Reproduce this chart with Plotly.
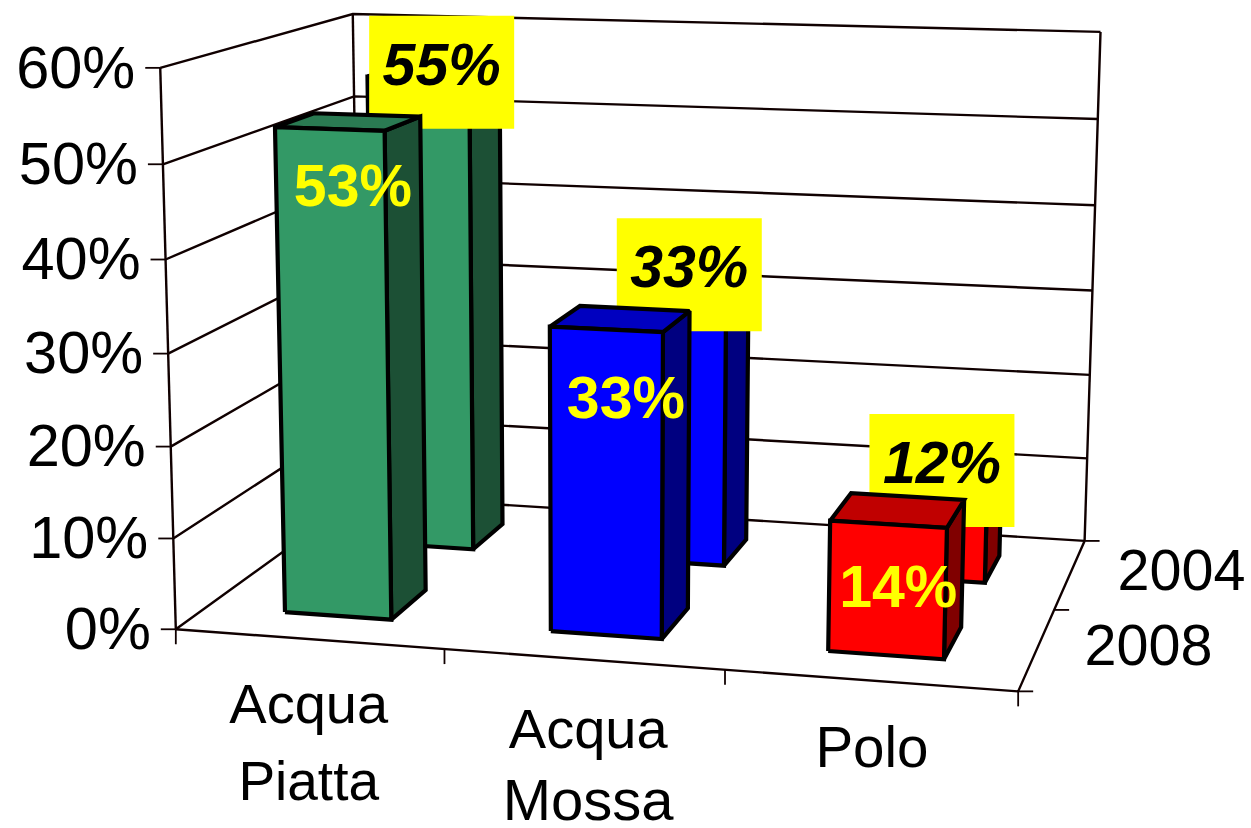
import numpy as np
import plotly.graph_objects as go

category_lines = [["Acqua", "Piatta"], ["Acqua", "Mossa"], ["Polo"]]
years = ["2008", "2004"]
values_2008 = [53, 33, 14]
values_2004 = [55, 33, 12]
z_ticks = [0, 10, 20, 30, 40, 50, 60]
face_colors = [("#339966", "#1c5035", "#2a7a52"), ("#0000ff", "#000080", "#0000c0"), ("#ff0000", "#800000", "#c00000")]

CAMERA = np.array([[259.2793371, 122.6544077, -0.3536272, 175.8070688],
                   [6.091377, -24.7949823, -9.3966901, 629.2724587],
                   [-0.0211244, 0.0844081, -0.0005877, 1.0]])

def project(x, y, z):
    q = CAMERA @ np.array([x, y, z, 1.0])
    return q[0] / q[2], q[1] / q[2]

FONT = "Liberation Sans, Arial, sans-serif"
fig = go.Figure()

def line(pts, width=2.4, color="#100000"):
    xs, ys = [], []
    for p in pts:
        xs.append(p[0]); ys.append(p[1])
    fig.add_trace(go.Scatter(x=xs, y=ys, mode="lines", line=dict(color=color, width=width), hoverinfo="skip", showlegend=False))

def text(x, y, s, size, color="black", pos="middle center", bold=False, italic=False):
    fig.add_trace(go.Scatter(x=[x], y=[y], mode="text", text=[s], textposition=pos,
        textfont=dict(family=FONT, size=size, color=color, weight="bold" if bold else "normal", style="italic" if italic else "normal"),
        hoverinfo="skip", showlegend=False, cliponaxis=False))

n_cat, n_row = len(category_lines), len(years)
zmax = z_ticks[-1]
# walls and floor
for z in z_ticks:
    line([project(0, 0, z), project(0, n_row, z), project(n_cat, n_row, z)])
    a = project(0, 0, z)
    line([a, (a[0] - 15, a[1])], width=1.8)
for x, y in [(0, 0), (0, n_row), (n_cat, n_row)]:
    line([project(x, y, 0), project(x, y, zmax)])
line([project(0, 0, 0), project(n_cat, 0, 0), project(n_cat, n_row, 0)])
for i in range(n_cat + 1):
    a = project(i, 0, 0)
    line([a, (a[0], a[1] + 15)], width=1.8)
for j in range(n_row + 1):
    a = project(n_cat, j, 0)
    line([a, (a[0] + 15, a[1])], width=1.8)

BAR_X0, BAR_X1, BAR_Y0, BAR_Y1 = 0.30, 0.705, 0.30, 0.70

def bar(i, j, v, cols):
    x0, x1, y0, y1 = i + BAR_X0, i + BAR_X1, j + BAR_Y0, j + BAR_Y1
    faces = [([(x1, y0, 0), (x1, y1, 0), (x1, y1, v), (x1, y0, v)], cols[1]),
             ([(x0, y0, v), (x1, y0, v), (x1, y1, v), (x0, y1, v)], cols[2]),
             ([(x0, y0, 0), (x1, y0, 0), (x1, y0, v), (x0, y0, v)], cols[0])]
    for f, c in faces:
        pts = [project(*p) for p in f]
        pts.append(pts[0])
        fig.add_trace(go.Scatter(x=[p[0] for p in pts], y=[p[1] for p in pts], mode="lines", fill="toself",
            fillcolor=c, line=dict(color="black", width=4.2), hoverinfo="skip", showlegend=False))

back_offsets = [(8, 0), (4, 4), (1, 7)]
front_offsets = [(5, 69), (6, 84), (1, 82)]
BOX_W, BOX_H = 145, 113
# back row, its yellow labels, then front row so that it covers them
for i, v in enumerate(values_2004):
    bar(i, 1, v, face_colors[i])
for i, v in enumerate(values_2004):
    a = project(i + 0.5, 1.5, v)
    cx, cy = a[0] + back_offsets[i][0], a[1] + back_offsets[i][1]
    fig.add_trace(go.Scatter(x=[cx - BOX_W/2, cx + BOX_W/2, cx + BOX_W/2, cx - BOX_W/2, cx - BOX_W/2],
        y=[cy - BOX_H/2, cy - BOX_H/2, cy + BOX_H/2, cy + BOX_H/2, cy - BOX_H/2], mode="lines", fill="toself",
        fillcolor="#ffff00", line=dict(width=0), hoverinfo="skip", showlegend=False))
    text(cx, cy - 2, f"{v}%", 59, bold=True, italic=True)
for i, v in enumerate(values_2008):
    bar(i, 0, v, face_colors[i])
for i, v in enumerate(values_2008):
    a = project(i + 0.5, 0.5, v)
    text(a[0] + front_offsets[i][0], a[1] + front_offsets[i][1], f"{v}%", 59, color="#ffff00", bold=True)

# tick labels
for z in z_ticks:
    a = project(0, 0, z)
    text(a[0] - 25, a[1] + 5, f"{z}%", 59.5, pos="middle left")
cat_dx = [0, 5, 2]
cat_dy = [[70, 147], [75, 146], [72]]
cat_size = [[56, 55], [56, 58], [56.5]]
for i, lines in enumerate(category_lines):
    a = project(i + 0.5, 0, 0)
    for k, s in enumerate(lines):
        text(a[0] + cat_dx[i], a[1] + cat_dy[i][k], s, cat_size[i][k])
for j, yr in enumerate(years):
    a = project(n_cat, j + 0.5, 0)
    text(a[0] + 111.5, a[1] + 2, yr, 57.5)

fig.update_layout(width=1251, height=828, margin=dict(l=0, r=0, t=0, b=0), paper_bgcolor="white", plot_bgcolor="white",
    xaxis=dict(visible=False, range=[0, 1251], fixedrange=True), yaxis=dict(visible=False, range=[828, 0], fixedrange=True), showlegend=False)
fig.write_html("out.html", config=dict(displayModeBar=False), post_script="document.body.style.margin='0';document.body.style.overflow='hidden';")
